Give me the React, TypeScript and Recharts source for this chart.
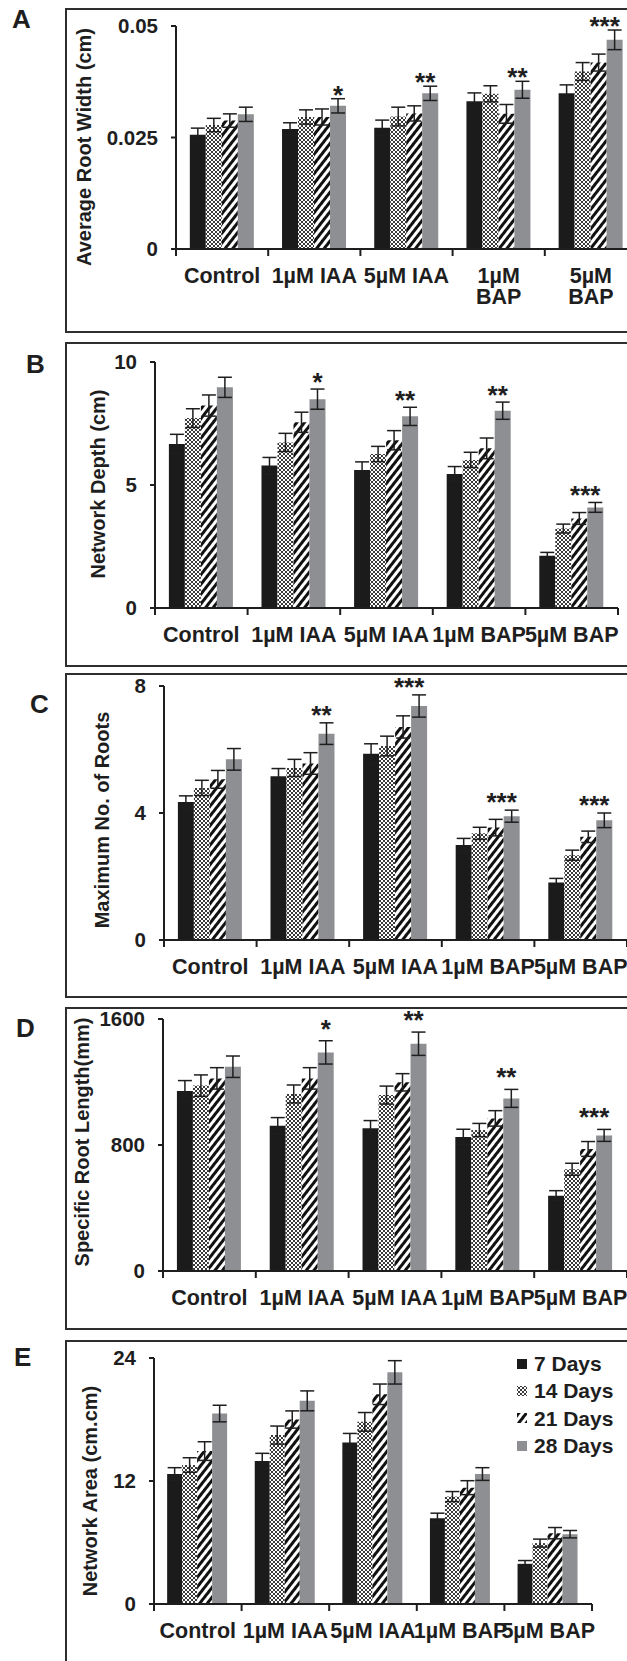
import React from 'react';
import { BarChart, Bar, XAxis, YAxis, ErrorBar, LabelList, Label, Legend } from 'recharts';

const FONT = '"Liberation Sans", Arial, Helvetica, sans-serif';
const INK = '#1e1e1e';

const categories = ['Control', '1µM IAA', '5µM IAA', '1µM BAP', '5µM BAP'];
const categoriesWrapped = ['Control', '1µM IAA', '5µM IAA', '1µM\nBAP', '5µM\nBAP'];
const seriesKeys = ['d7', 'd14', 'd21', 'd28'];
const seriesNames = ['7 Days', '14 Days', '21 Days', '28 Days'];

// A - average root width (cm)
const widthD7 = [0.0256, 0.0269, 0.0272, 0.0331, 0.0349];
const widthD14 = [0.0278, 0.0296, 0.0297, 0.0348, 0.0398];
const widthD21 = [0.0288, 0.0296, 0.0304, 0.0303, 0.0418];
const widthD28 = [0.0302, 0.0321, 0.0349, 0.0357, 0.0469];
const widthErrD7 = [0.0015, 0.0014, 0.0017, 0.0019, 0.0019];
const widthErrD14 = [0.0015, 0.0016, 0.0021, 0.0018, 0.002];
const widthErrD21 = [0.0015, 0.0018, 0.0017, 0.0021, 0.0019];
const widthErrD28 = [0.0016, 0.0016, 0.0016, 0.0019, 0.0022];
const widthStars = ['', '*', '**', '**', '***'];

// B - network depth (cm)
const depthD7 = [6.67, 5.79, 5.61, 5.45, 2.12];
const depthD14 = [7.72, 6.73, 6.26, 6.02, 3.23];
const depthD21 = [8.23, 7.55, 6.82, 6.49, 3.64];
const depthD28 = [8.97, 8.49, 7.79, 8.02, 4.09];
const depthErrD7 = [0.39, 0.33, 0.33, 0.3, 0.14];
const depthErrD14 = [0.38, 0.37, 0.31, 0.31, 0.18];
const depthErrD21 = [0.43, 0.41, 0.39, 0.42, 0.24];
const depthErrD28 = [0.41, 0.41, 0.37, 0.35, 0.2];
const depthStars = ['', '*', '**', '**', '***'];

// C - maximum no. of roots
const rootsD7 = [4.35, 5.16, 5.87, 2.99, 1.81];
const rootsD14 = [4.79, 5.42, 6.11, 3.36, 2.67];
const rootsD21 = [5.06, 5.56, 6.71, 3.54, 3.25];
const rootsD28 = [5.69, 6.5, 7.37, 3.9, 3.77];
const rootsErrD7 = [0.19, 0.24, 0.31, 0.21, 0.13];
const rootsErrD14 = [0.24, 0.27, 0.31, 0.19, 0.16];
const rootsErrD21 = [0.28, 0.34, 0.35, 0.26, 0.18];
const rootsErrD28 = [0.34, 0.34, 0.35, 0.19, 0.23];
const rootsStars = ['', '**', '***', '***', '***'];

// D - specific root length (mm)
const lengthD7 = [1143, 923, 906, 851, 478];
const lengthD14 = [1177, 1124, 1117, 895, 646];
const lengthD21 = [1223, 1223, 1198, 969, 775];
const lengthD28 = [1297, 1388, 1443, 1096, 861];
const lengthErrD7 = [66, 51, 49, 49, 32];
const lengthErrD14 = [68, 57, 57, 42, 38];
const lengthErrD21 = [68, 68, 55, 49, 47];
const lengthErrD28 = [68, 74, 74, 57, 38];
const lengthStars = ['', '*', '**', '**', '***'];

// E - network area (cm.cm)
const areaD7 = [12.68, 13.95, 15.76, 8.37, 3.92];
const areaD14 = [13.56, 16.48, 17.77, 10.48, 5.94];
const areaD21 = [14.92, 18.0, 20.46, 11.35, 6.91];
const areaD28 = [18.58, 19.82, 22.6, 12.68, 6.81];
const areaErrD7 = [0.62, 0.75, 0.88, 0.49, 0.32];
const areaErrD14 = [0.71, 0.88, 0.91, 0.49, 0.39];
const areaErrD21 = [0.91, 0.84, 1.0, 0.68, 0.55];
const areaErrD28 = [0.81, 0.97, 1.14, 0.62, 0.36];
const areaStars = ['', '', '', '', ''];

const fills: Record<string, string> = {
  d7: '#1b1b1b',
  d14: 'url(#crossFill)',
  d21: 'url(#hatchFill)',
  d28: '#8e8f92',
};

function buildRows(labels: string[], means: number[][], errs: number[][], stars: string[]) {
  return labels.map((name, i) => {
    const row: any = { name, star: stars[i] };
    seriesKeys.forEach((k, s) => {
      row[k] = means[s][i];
      row[k + 'e'] = errs[s][i];
    });
    return row;
  });
}

const CHART_W = 660;
const Y_AXIS_W = 60;
const X_AXIS_H = 50;

const panels = [
  {
    letter: 'A', letterX: 12, letterTop: 7, top: 8, bottom: 333,
    plot: { left: 176, right: 637, top: 26, bottom: 249 },
    yMax: 0.05, ticks: [0, 0.025, 0.05], yLabel: 'Average Root Width (cm)', yLabelX: 84, yLabelY: 147, starDy: 5,
    data: buildRows(categoriesWrapped, [widthD7, widthD14, widthD21, widthD28], [widthErrD7, widthErrD14, widthErrD21, widthErrD28], widthStars),
  },
  {
    letter: 'B', letterX: 26, letterTop: 352, top: 342, bottom: 667,
    plot: { left: 155, right: 618, top: 362, bottom: 608 },
    yMax: 10, ticks: [0, 5, 10], yLabel: 'Network Depth (cm)', yLabelX: 98, yLabelY: 484, starDy: 2,
    data: buildRows(categories, [depthD7, depthD14, depthD21, depthD28], [depthErrD7, depthErrD14, depthErrD21, depthErrD28], depthStars),
  },
  {
    letter: 'C', letterX: 30, letterTop: 692, top: 673, bottom: 998,
    plot: { left: 164, right: 627, top: 686, bottom: 940 },
    yMax: 8, ticks: [0, 4, 8], yLabel: 'Maximum No. of Roots', yLabelX: 102, yLabelY: 820, starDy: 1,
    data: buildRows(categories, [rootsD7, rootsD14, rootsD21, rootsD28], [rootsErrD7, rootsErrD14, rootsErrD21, rootsErrD28], rootsStars),
  },
  {
    letter: 'D', letterX: 16, letterTop: 1016, top: 1007, bottom: 1330,
    plot: { left: 163, right: 627, top: 1019, bottom: 1271 },
    yMax: 1600, ticks: [0, 800, 1600], yLabel: 'Specific Root Length(mm)', yLabelX: 82, yLabelY: 1142, starDy: -3,
    data: buildRows(categories, [lengthD7, lengthD14, lengthD21, lengthD28], [lengthErrD7, lengthErrD14, lengthErrD21, lengthErrD28], lengthStars),
  },
  {
    letter: 'E', letterX: 14, letterTop: 1345, top: 1340, bottom: 1675,
    plot: { left: 154, right: 592, top: 1358, bottom: 1604 },
    yMax: 24, ticks: [0, 12, 24], yLabel: 'Network Area (cm.cm)', yLabelX: 90, yLabelY: 1491, starDy: 0,
    data: buildRows(categories, [areaD7, areaD14, areaD21, areaD28], [areaErrD7, areaErrD14, areaErrD21, areaErrD28], areaStars),
    legend: true,
  },
];

function CategoryTick(props: any) {
  const { x, y, payload, index, band, last } = props;
  const lines = String(payload.value).split('\n');
  return (
    <g>
      <line x1={x - band / 2} x2={x - band / 2} y1={y} y2={y + 7} stroke={INK} strokeWidth={2} />
      {index === last && <line x1={x + band / 2} x2={x + band / 2} y1={y} y2={y + 7} stroke={INK} strokeWidth={2} />}
      <text x={x} y={y + 34} textAnchor="middle" fontFamily={FONT} fontWeight="bold" fontSize={21.5} fill={INK}>
        {lines.map((l, i) => (
          <tspan key={i} x={x} dy={i === 0 ? 0 : 21}>{l}</tspan>
        ))}
      </text>
    </g>
  );
}

function LegendBox({ payload }: any) {
  const items = [...(payload || [])].sort(
    (a: any, b: any) => seriesKeys.indexOf(a.dataKey) - seriesKeys.indexOf(b.dataKey)
  );
  return (
    <div style={{ fontFamily: FONT, fontWeight: 'bold', fontSize: 21, color: INK, lineHeight: '27.3px' }}>
      {items.map((entry: any) => (
        <div key={entry.value} style={{ display: 'flex', alignItems: 'center' }}>
          <svg width={11} height={10} style={{ marginRight: 6 }}>
            <rect width={10} height={10} fill={fills[entry.dataKey]} />
          </svg>
          <span>{entry.value}</span>
        </div>
      ))}
    </div>
  );
}

function Panel({ p }: { p: any }) {
  const height = p.bottom - p.top;
  const band = (p.plot.right - p.plot.left) / p.data.length;
  const plotH = p.plot.bottom - p.plot.top;
  const margin = {
    top: p.plot.top - p.top,
    bottom: p.bottom - p.plot.bottom - X_AXIS_H,
    left: p.plot.left - Y_AXIS_W,
    right: CHART_W - p.plot.right,
  };

  const renderStar = (props: any) => {
    const { x, y, width, index, value } = props;
    if (!value) return null;
    const capY = y - (p.data[index].d28e / p.yMax) * plotH;
    const n = String(value).length;
    return (
      <text x={x + width / 2 - (n - 1) * 5} y={capY + p.starDy} textAnchor="middle" fontFamily={FONT} fontWeight="bold" fontSize={26} fill={INK}>
        {value}
      </text>
    );
  };

  return (
    <>
      <div style={{ position: 'absolute', left: 65, top: p.top, width: 640, height, border: '2px solid #2e2e2e', boxSizing: 'border-box' }} />
      <div style={{ position: 'absolute', left: p.letterX, top: p.letterTop - 1, fontFamily: FONT, fontWeight: 'bold', fontSize: 26, lineHeight: '26px', color: INK }}>
        {p.letter}
      </div>
      <div style={{ position: 'absolute', left: 0, top: p.top }}>
        <BarChart width={CHART_W} height={height} data={p.data} margin={margin} barGap={0} barCategoryGap="15%">
          <XAxis dataKey="name" height={X_AXIS_H} interval={0} tickLine={false} tickSize={0} tickMargin={0}
            axisLine={{ stroke: INK, strokeWidth: 2 }}
            tick={(tp: any) => <CategoryTick {...tp} band={band} last={p.data.length - 1} />} />
          <YAxis type="number" domain={[0, p.yMax]} ticks={p.ticks} width={Y_AXIS_W} tickSize={5} tickMargin={13}
            axisLine={{ stroke: INK, strokeWidth: 2 }} tickLine={{ stroke: INK, strokeWidth: 2 }}
            tick={{ fontFamily: FONT, fontWeight: 'bold', fontSize: 20.5, fill: INK }}>
            <Label content={() => (
              <text x={p.yLabelX} y={p.yLabelY - p.top} transform={`rotate(-90 ${p.yLabelX} ${p.yLabelY - p.top})`}
                textAnchor="middle" dominantBaseline="central" fontFamily={FONT} fontWeight="bold" fontSize={20} fill={INK}>
                {p.yLabel}
              </text>
            )} />
          </YAxis>
          {p.legend && (
            <Legend layout="vertical" align="center" verticalAlign="middle" content={<LegendBox />}
              wrapperStyle={{ left: 517, top: 10, width: 'auto' }} />
          )}
          {seriesKeys.map((k, s) => (
            <Bar key={k} dataKey={k} name={seriesNames[s]} fill={fills[k]} isAnimationActive={false}>
              <ErrorBar dataKey={k + 'e'} width={7} stroke={INK} strokeWidth={1.5} direction="y" />
              {k === 'd28' && <LabelList dataKey="star" content={renderStar} />}
            </Bar>
          ))}
        </BarChart>
      </div>
    </>
  );
}

export default function App() {
  return (
    <div style={{ position: 'relative', width: 627, height: 1661, overflow: 'hidden', background: '#fff' }}>
      <style>{'body{margin:0}'}</style>
      <svg width={0} height={0} style={{ position: 'absolute' }}>
        <defs>
          <pattern id="crossFill" width={4} height={4} patternUnits="userSpaceOnUse">
            <rect width={4} height={4} fill="#fff" />
            <path d="M0,0L4,4M4,0L0,4" stroke="#3a3a3a" strokeWidth={1} />
          </pattern>
          <pattern id="hatchFill" width={6} height={6} patternUnits="userSpaceOnUse" patternTransform="rotate(38)">
            <rect width={6} height={6} fill="#fff" />
            <rect width={3} height={6} fill="#111" />
          </pattern>
        </defs>
      </svg>
      {panels.map((p) => (
        <Panel key={p.letter} p={p} />
      ))}
    </div>
  );
}
